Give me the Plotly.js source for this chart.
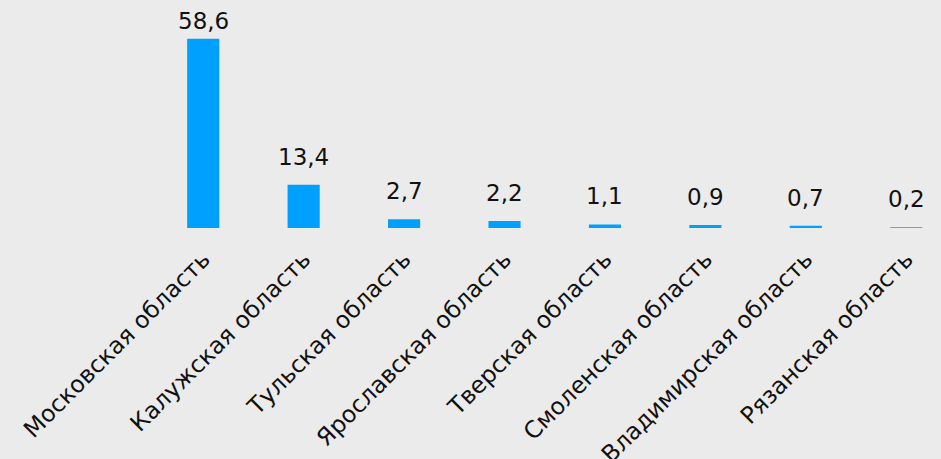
<!DOCTYPE html>
<html><head><meta charset="utf-8">
<script src="https://cdn.plot.ly/plotly-3.0.1.min.js"></script>
<style>html,body{margin:0;padding:0;background:#ebebeb;}</style>
</head><body>
<div id="chart" style="width:941px;height:459px;"></div>
<script>
const regions = ["Московская область","Калужская область","Тульская область","Ярославская область","Тверская область","Смоленская область","Владимирская область","Рязанская область"];
const shares = [58.6, 13.4, 2.7, 2.2, 1.1, 0.9, 0.7, 0.2];
const labels = shares.map(v => v.toFixed(1).replace('.', ','));

const yMax = 70.6, plotH = 228;
const font = 'DejaVu Sans, Verdana, sans-serif';
const annotations = regions.map((r, i) => ({
  x: r, y: shares[i], xref: 'x', yref: 'y',
  text: labels[i], showarrow: false,
  xanchor: 'center', yanchor: 'bottom',
  yshift: Math.min(13, (yMax - shares[i]) * plotH / yMax - 36),
  font: {family: font, size: 23, color: '#111111'}
}));

Plotly.newPlot('chart', [{
  type: 'bar',
  x: regions,
  y: shares,
  marker: {color: '#00a0ff'},
  width: 0.32,
  hoverinfo: 'skip'
}], {
  width: 941, height: 459,
  paper_bgcolor: '#ebebeb', plot_bgcolor: '#ebebeb',
  margin: {l: 152.5, r: 0, t: 0, b: 231},
  showlegend: false,
  annotations: annotations,
  xaxis: {
    range: [-0.5, 7.346],
    tickangle: -45,
    showline: false, showgrid: false, zeroline: false, ticks: '',
    automargin: false,
    ticklabelstandoff: 12,
    tickfont: {family: font, size: 23.5, color: '#111111'}
  },
  yaxis: {range: [0, yMax], visible: false, showgrid: false, zeroline: false, fixedrange: true}
}, {staticPlot: true, displayModeBar: false});
</script>
</body></html>
